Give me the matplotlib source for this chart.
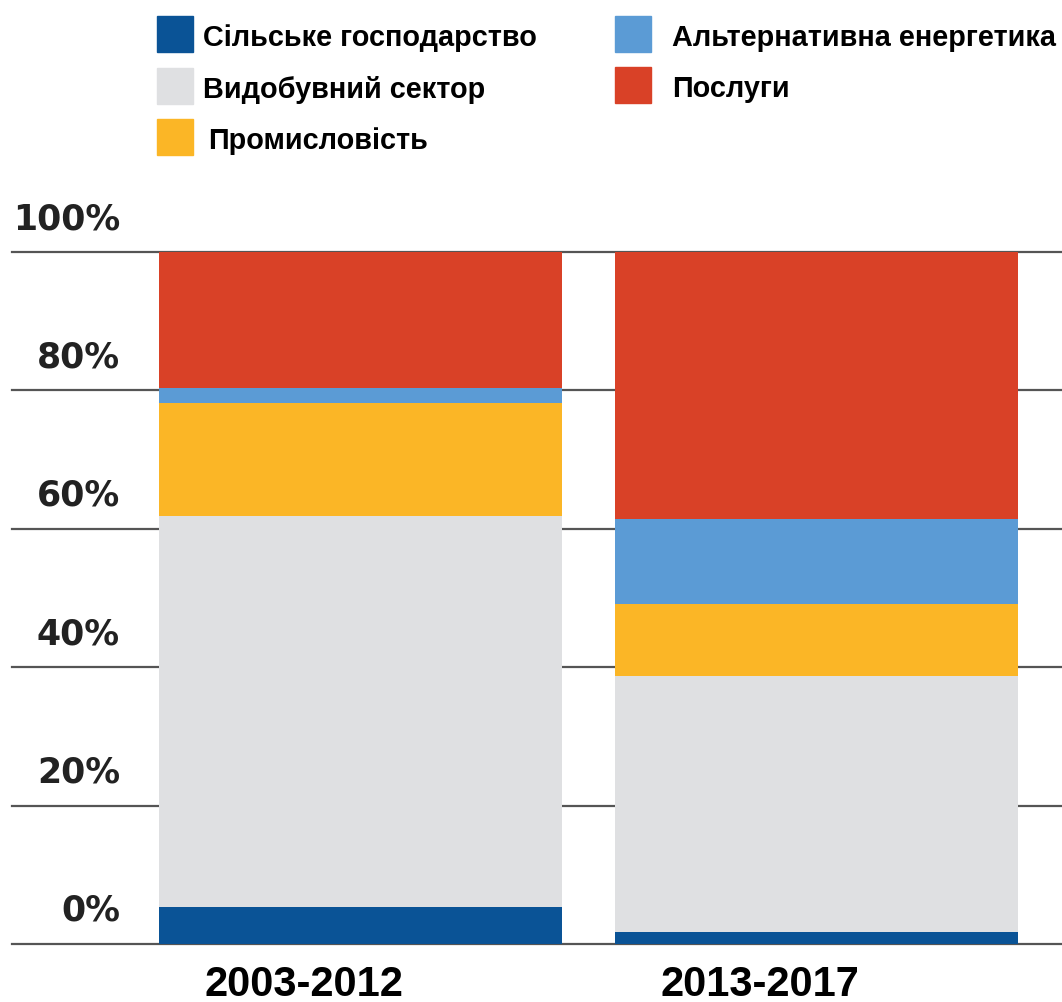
import matplotlib
matplotlib.use('Agg')
import matplotlib.pyplot as plt
from matplotlib.patches import Rectangle

# structure of investment by sector, percent of total
categories = ['2003-2012', '2013-2017']
agriculture = [5.4, 1.7]
mining = [56.5, 37.0]
industry = [16.3, 10.5]
alt_energy = [2.1, 12.2]
services = [19.7, 38.6]

sector_names = ['Сільське господарство', 'Видобувний сектор', 'Промисловість',
                'Альтернативна енергетика', 'Послуги']
sector_colors = ['#0a5396', '#dfe0e2', '#fbb626', '#5b9bd5', '#d94127']
y_ticks = [0, 20, 40, 60, 80, 100]

fig = plt.figure(figsize=(10.62, 10.03), dpi=100)
W, H = 1062, 1003
ax = fig.add_axes([12 / W, (H - 945) / H, 1 - 12 / W, (945 - 253) / H])
ax.set_xlim(-348 / 456, (1062 - 360) / 456)
ax.set_ylim(0, 100)
ax.axis('off')

xs = list(range(len(categories)))
bottom = [0] * len(categories)
for vals, col in zip([agriculture, mining, industry, alt_energy, services], sector_colors):
    ax.bar(xs, vals, width=403 / 456, bottom=bottom, color=col, zorder=3, linewidth=0)
    bottom = [b + v for b, v in zip(bottom, vals)]

for v in y_ticks:
    ax.axhline(v, color='#555555', linewidth=1.6, zorder=1, clip_on=False)
    ax.annotate(f'{v}%', xy=(0, v), xycoords=('axes fraction', 'data'),
                xytext=(108, 34), textcoords='offset pixels',
                ha='right', va='center', fontsize=25, fontweight='bold',
                color='#222222', family='DejaVu Sans')

for x, lab in zip(xs, categories):
    ax.annotate(lab, xy=(x, 0), xycoords='data', xytext=(-56, -40),
                textcoords='offset pixels', ha='center', va='center',
                fontsize=30, fontweight='bold', color='black',
                family='Liberation Sans')

# legend drawn by hand in two columns
legend_pos = [(157, 17), (157, 69), (157, 120), (615, 17), (615, 68)]
text_x = [203, 203, 208, 672, 672]
for (lx, ly), tx, name, col in zip(legend_pos, text_x, sector_names, sector_colors):
    fig.patches.append(Rectangle((lx / W, 1 - (ly + 36) / H), 36 / W, 36 / H,
                                 transform=fig.transFigure, color=col))
    fig.text(tx / W, 1 - (ly + 18 + 3) / H, name, ha='left', va='center',
             fontsize=20.8, fontweight='bold', color='black',
             family='Liberation Sans')

fig.savefig('out.png', dpi=100)
